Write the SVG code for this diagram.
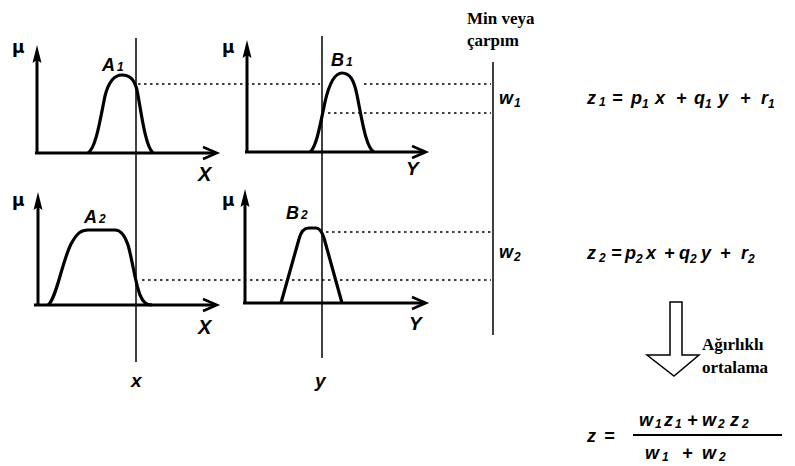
<svg xmlns="http://www.w3.org/2000/svg" width="795" height="466" viewBox="0 0 795 466">
<style>
.ax{fill:none;stroke:#000;stroke-width:3;stroke-linecap:butt}
.ah{fill:#000;stroke:none}
.ar{fill:none;stroke:#000;stroke-width:2.5;stroke-linejoin:miter}
.cv{fill:none;stroke:#000;stroke-width:3.2;stroke-linejoin:round}
.vl{stroke:#000;stroke-width:1.5}
.dt{stroke:#000;stroke-width:1.6;stroke-dasharray:2.5,3.5}
.lb{font-family:"Liberation Sans",Arial,sans-serif;font-weight:bold;font-style:italic;fill:#000}
.mu{font-family:"DejaVu Sans",sans-serif;font-weight:bold;font-size:17px;fill:#000}
.sr{font-family:"Liberation Serif",serif;font-weight:bold;font-size:17px;fill:#000}
.eq{font-family:"Liberation Sans",Arial,sans-serif;font-weight:bold;font-style:italic;font-size:18px;fill:#000}
.sb{font-size:12px}
</style>

<g id="connectors">
<line class="vl" x1="136" y1="38" x2="136" y2="362"/>
<line class="vl" x1="322" y1="36" x2="322" y2="358"/>
<line class="vl" x1="493" y1="62" x2="493" y2="335"/>
<line class="dt" x1="138" y1="84" x2="320" y2="84"/>
<line class="dt" x1="364" y1="84" x2="491" y2="84"/>
<line class="dt" x1="328" y1="113" x2="491" y2="113"/>
<line class="dt" x1="326" y1="232" x2="491" y2="232"/>
<line class="dt" x1="142" y1="280" x2="491" y2="280"/>
</g>

<g id="panelA1">
<text class="mu" x="12" y="53">μ</text>
<line class="ax" x1="37" y1="154" x2="37" y2="58"/>
<path class="ah" d="M37,45 L41.5,63 L37,60 L32.5,63 Z"/>
<line class="ax" x1="35" y1="153" x2="216" y2="153"/>
<path class="ar" d="M203,147 L217,153 L203,159"/>
<path class="cv" d="M88,153 C96,148 100,120 105,96 C109,80 115,75 122,75 C130,75 134,79 137,90 C141,110 145,146 153,153"/>
<text class="lb" x="102" y="71" font-size="18">A<tspan class="sb" dx="2">1</tspan></text>
<text class="lb" x="198" y="181" font-size="20">X</text>
</g>

<g id="panelB1">
<text class="mu" x="222" y="53">μ</text>
<line class="ax" x1="247" y1="153" x2="247" y2="52"/>
<path class="ah" d="M247,40 L251.5,58 L247,55 L242.5,58 Z"/>
<line class="ax" x1="245" y1="152" x2="425" y2="152"/>
<path class="ar" d="M412,146 L426,152 L412,158"/>
<path class="cv" d="M310,152 C316,148 320,126 325,102 C330,80 336,73 342,73 C350,73 354,80 357,95 C362,120 366,148 374,152"/>
<text class="lb" x="331" y="66" font-size="18">B<tspan class="sb" dx="2">1</tspan></text>
<text class="lb" x="406" y="175" font-size="19">Y</text>
</g>

<g id="panelA2">
<text class="mu" x="12" y="206">μ</text>
<line class="ax" x1="38" y1="306" x2="38" y2="205"/>
<path class="ah" d="M38,192 L42.5,210 L38,207 L33.5,210 Z"/>
<line class="ax" x1="34" y1="305" x2="216" y2="305"/>
<path class="ar" d="M203,299 L217,305 L203,311"/>
<path class="cv" d="M48,305 C56,300 62,262 71,244 C77,233 81,230 88,230 L115,230 C121,230 125,236 128,245 C132,258 135,282 140,295 C143,302 146,305 152,305"/>
<text class="lb" x="84" y="223" font-size="18">A<tspan class="sb" dx="2">2</tspan></text>
<text class="lb" x="198" y="334" font-size="20">X</text>
</g>

<g id="panelB2">
<text class="mu" x="222" y="206">μ</text>
<line class="ax" x1="245" y1="304" x2="245" y2="202"/>
<path class="ah" d="M245,189 L249.5,207 L245,204 L240.5,207 Z"/>
<line class="ax" x1="243" y1="303" x2="425" y2="303"/>
<path class="ar" d="M412,297 L426,303 L412,309"/>
<path class="cv" d="M281,303 L299,239 C301,231 304,228 309,228 L316,228 C320,228 322,232 324,238 L342,303"/>
<text class="lb" x="286" y="219" font-size="18">B<tspan class="sb" dx="2">2</tspan></text>
<text class="lb" x="409" y="330" font-size="19">Y</text>
</g>

<g id="inputs">
<text class="lb" x="131" y="387" font-size="19">x</text>
<text class="lb" x="315" y="387" font-size="19">y</text>
</g>

<g id="minblock">
<text class="sr" x="467" y="24">Min veya</text>
<text class="sr" x="467" y="46">çarpım</text>
<text class="eq" x="499" y="104">w<tspan class="sb" dx="1" dy="3">1</tspan></text>
<text class="eq" x="499" y="258">w<tspan class="sb" dx="1" dy="3">2</tspan></text>
</g>

<g id="eq1">
<text class="eq" y="104"><tspan x="587">z</tspan><tspan class="sb" x="599" dy="2">1</tspan><tspan x="612" dy="-2">=</tspan><tspan x="631">p</tspan><tspan class="sb" x="642" dy="4">1</tspan><tspan x="655" dy="-4">x</tspan><tspan x="676">+</tspan><tspan x="694">q</tspan><tspan class="sb" x="705" dy="4">1</tspan><tspan x="718" dy="-4">y</tspan><tspan x="740">+</tspan><tspan x="761">r</tspan><tspan class="sb" x="768" dy="4">1</tspan></text>
</g>

<g id="eq2">
<text class="eq" y="259"><tspan x="587">z</tspan><tspan class="sb" x="599" dy="3">2</tspan><tspan x="611" dy="-3">=</tspan><tspan x="625">p</tspan><tspan class="sb" x="636" dy="4">2</tspan><tspan x="646" dy="-4">x</tspan><tspan x="664">+</tspan><tspan x="679">q</tspan><tspan class="sb" x="690" dy="4">2</tspan><tspan x="701" dy="-4">y</tspan><tspan x="720">+</tspan><tspan x="741">r</tspan><tspan class="sb" x="748" dy="4">2</tspan></text>
</g>

<g id="avgArrow">
<path d="M670,302 L682,302 L682,355 L699,355 L674,376 L647,355 L670,355 Z" fill="#fff" stroke="#000" stroke-width="1.5"/>
<text class="sr" x="702" y="350">Ağırlıklı</text>
<text class="sr" x="702" y="373">ortalama</text>
</g>

<g id="eq3">
<text class="eq" y="442"><tspan x="587">z</tspan><tspan x="604">=</tspan></text>
<text class="eq" y="426"><tspan x="639">w</tspan><tspan class="sb" x="655" dy="2">1</tspan><tspan x="664" dy="-2">z</tspan><tspan class="sb" x="675" dy="2">1</tspan><tspan x="687" dy="-2">+</tspan><tspan x="702">w</tspan><tspan class="sb" x="718" dy="2">2</tspan><tspan x="730" dy="-2">z</tspan><tspan class="sb" x="742" dy="2">2</tspan></text>
<line x1="633" y1="435" x2="782" y2="435" stroke="#000" stroke-width="1.8"/>
<text class="eq" y="459"><tspan x="645">w</tspan><tspan class="sb" x="662" dy="2">1</tspan><tspan x="682" dy="-2">+</tspan><tspan x="702">w</tspan><tspan class="sb" x="719" dy="2">2</tspan></text>
</g>
</svg>
